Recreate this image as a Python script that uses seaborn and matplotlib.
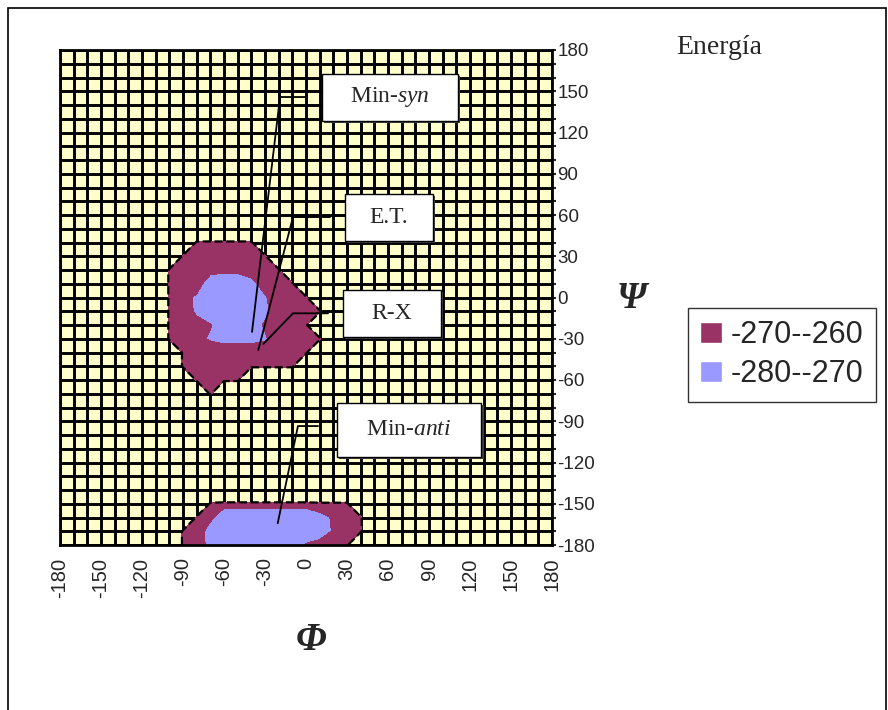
import numpy as np
import matplotlib
matplotlib.use("Agg")
import matplotlib.pyplot as plt
import seaborn as sns
from matplotlib.patches import Patch, Rectangle

# grid of the energy surface (degrees)
phi = np.arange(-180, 190, 10)
psi = np.arange(-180, 190, 10)
E_OUT = -200  # energy outside the two minima (above every band)
N = None

# upper minimum (syn)
upper_phi = [-100, -90, -80, -70, -60, -50, -40, -30, -20, -10, 0, 10]
upper_psi = [40, 30, 20, 10, 0, -10, -20, -30, -40, -50, -60, -70]
upper_E = [
    [N, N, -265, -265, -265, -265, -265, N, N, N, N, N],
    [N, -265, -265, -265, -265, -265, -265, -265, N, N, N, N],
    [-265, -265, -265, -268, -268, -268, -266, -265, -265, N, N, N],
    [-265, -265, -267, -274, -276, -276, -273, -266, -265, -265, N, N],
    [-265, -268, -271, -277, -278, -278, -276, -271, -265, -265, -265, N],
    [-265, -267, -271, -277, -278, -278, -277, -272, -265, -265, -265, -265],
    [-265, -266, -268, -269.5, -274, -276, -274, -269, -265, -265, -265, N],
    [-265, -265, -268, -271, -273, -273, -273, -271, -265, -265, -265, -265],
    [N, -265, -265, -265, -265, -265, -265, -265, -265, -265, -265, N],
    [N, -265, -265, -265, -265, -265, -265, -265, -265, -265, N, N],
    [N, N, -265, -265, -265, -265, N, N, N, N, N, N],
    [N, N, N, -265, N, N, N, N, N, N, N, N],
]

# lower minimum (anti)
lower_phi = [-90, -80, -70, -60, -50, -40, -30, -20, -10, 0, 10, 20, 30, 40]
lower_psi = [-150, -160, -170, -180]
lower_E = [
    [N, N, -265, -267, -267, -267, -267, -267, -267, -267, -265, -265, -265, N],
    [N, -265, -268, -276, -276, -276, -276, -276, -276, -276, -273, -269, -265, -265],
    [-265, -265, -274, -277, -277, -277, -277, -277, -277, -277, -276, -269, -265, -265],
    [-265, -265, -273, -276, -276, -276, -276, -276, -276, -269, -266, -265, -265, N],
]

levels = [-280, -270, -260]
band_colors = ["#9999FF", "#993366"]
band_labels = ["-280--270", "-270--260"]

# callouts: label, box centre, box size, leader points
labels = ["Min-$\\mathit{syn}$", "E.T.", "R-X", "Min-$\\mathit{anti}$"]
box_xy = [(61.5, 145.5), (60.7, 58.2), (62.9, -11.5), (75.4, -96.1)]
box_wh = [(100, 34), (64.6, 34), (71.7, 34), (106, 39.3)]
leaders = [
    [(-0.7, 145.8), (-19, 145.8), (-39.5, -25)],
    [(17.6, 58.5), (-9.5, 58.5), (-34.9, -38.2)],
    [(16.1, -11.5), (-9.5, -11.5), (-31.2, -33.8)],
    [(8.8, -93.5), (-5.9, -93.5), (-20.7, -164.2)],
]

Z = np.full((len(psi), len(phi)), float(E_OUT))
for rows, cols, vals in [(upper_psi, upper_phi, upper_E), (lower_psi, lower_phi, lower_E)]:
    for p, row in zip(rows, vals):
        for f, v in zip(cols, row):
            if v is not None:
                Z[list(psi).index(p), list(phi).index(f)] = v

sns.set_style("white")
plt.rcParams["font.family"] = ["Liberation Sans", "DejaVu Sans"]
plt.rcParams["axes.unicode_minus"] = False
plt.rcParams["mathtext.fontset"] = "custom"
plt.rcParams["mathtext.rm"] = "Liberation Serif"
plt.rcParams["mathtext.it"] = "Liberation Serif:italic"

fig = plt.figure(figsize=(8.88, 7.10), dpi=100)
ax = fig.add_axes([60 / 888, 1 - 545 / 710, 492 / 888, 495 / 710])
ax.set_facecolor("#FFFFCC")

ax.contourf(phi, psi, Z, levels=levels, colors=band_colors, zorder=2)
ax.contour(phi, psi, Z, levels=[-260], colors="black", linewidths=1.6, zorder=3)

ax.set_xlim(-180, 180)
ax.set_ylim(-180, 180)
ax.set_xticks(np.arange(-180, 181, 30))
ax.set_yticks(np.arange(-180, 181, 30))
ax.set_xticks(np.arange(-180, 181, 10), minor=True)
ax.set_yticks(np.arange(-180, 181, 10), minor=True)
ax.grid(which="both", color="black", linewidth=2.1)
ax.set_axisbelow(True)
ax.yaxis.tick_right()
ax.tick_params(axis="x", which="both", direction="out", length=7, width=1.5,
               labelsize=14.5, labelrotation=90, pad=2)
ax.tick_params(axis="y", which="both", direction="out", length=3, width=1.5,
               labelsize=13.5, pad=1)
for s in ax.spines.values():
    s.set_linewidth(2)
    s.set_color("black")

# callout boxes
for lab, (cx, cy), (w, h), pts in zip(labels, box_xy, box_wh, leaders):
    xs, ys = zip(*pts)
    ax.plot(xs, ys, color="black", lw=1.3, zorder=4)
    ax.add_patch(Rectangle((cx - w / 2 + 1.5, cy - h / 2 - 1.5), w, h,
                           facecolor="#404040", edgecolor="none", zorder=5))
    ax.add_patch(Rectangle((cx - w / 2, cy - h / 2), w, h,
                           facecolor="white", edgecolor="black", lw=1, zorder=6))
    ax.text(cx, cy, lab, ha="center", va="center", fontsize=17,
            family="Liberation Serif", zorder=7)

fig.text(311 / 888, 1 - 640 / 710, "Φ", ha="center", va="center", fontsize=28,
         family="Liberation Serif", fontstyle="italic", fontweight="bold")
fig.text(632 / 888, 1 - 298 / 710, "Ψ", ha="center", va="center", fontsize=27,
         family="Liberation Serif", fontstyle="italic", fontweight="bold")
fig.text(676 / 888, 1 - 47 / 710, "Energía", ha="left", va="center", fontsize=20,
         family="Liberation Serif")

handles = [Patch(facecolor=band_colors[1], label=band_labels[1]),
           Patch(facecolor=band_colors[0], label=band_labels[0])]
leg = fig.legend(handles=handles, loc="upper left",
                 bbox_to_anchor=(688 / 888, 1 - 308 / 710), frameon=True,
                 fancybox=False, edgecolor="black", fontsize=22,
                 handlelength=0.7, handleheight=0.7, handletextpad=0.3,
                 borderpad=0.4, labelspacing=0.3, borderaxespad=0)
leg.get_frame().set_linewidth(1)

fig.patches.append(Rectangle((8 / 888, -0.01), 878 / 888, 1 - 8 / 710 + 0.01,
                             transform=fig.transFigure, fill=False,
                             edgecolor="black", lw=1.2))

fig.savefig("out.png", dpi=100)
